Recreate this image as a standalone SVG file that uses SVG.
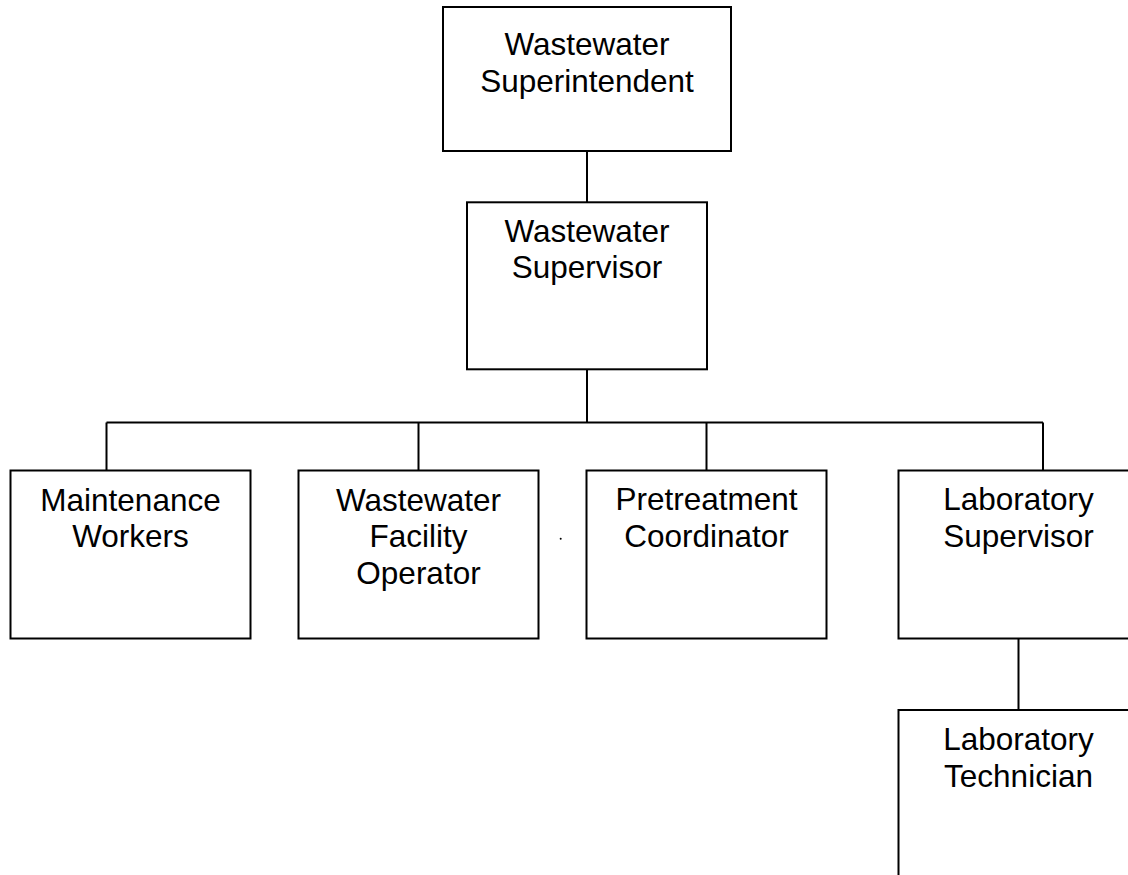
<svg xmlns="http://www.w3.org/2000/svg" width="1128" height="875" viewBox="0 0 1128 875">
<style>
.box{fill:#fff;stroke:#000;stroke-width:2}
.ln{fill:none;stroke:#000;stroke-width:2}
text{font-family:"Liberation Sans",Arial,sans-serif;font-size:31.5px;fill:#000;text-anchor:middle}
</style>
<rect width="1128" height="875" fill="#fff"/>
<g id="connectors">
<path class="ln" d="M587 151V202M587 369V422.5M106.5 422.5H1043M106.5 422.5V470.5M418.5 422.5V470.5M706.5 422.5V470.5M1043 422.5V470.5M1018.5 638.5V710"/>
</g>
<g id="superintendent">
<rect class="box" x="443" y="7" width="288" height="144"/>
<text x="587" y="55">Wastewater</text>
<text x="587" y="91.7">Superintendent</text>
</g>
<g id="supervisor">
<rect class="box" x="467" y="202.3" width="240" height="167"/>
<text x="587" y="241.7">Wastewater</text>
<text x="587" y="278.3">Supervisor</text>
</g>
<g id="maintenance">
<rect class="box" x="10.5" y="470.5" width="240" height="168"/>
<text x="130.5" y="510.5">Maintenance</text>
<text x="130.5" y="547.2">Workers</text>
</g>
<g id="operator">
<rect class="box" x="298.5" y="470.5" width="240" height="168"/>
<text x="418.5" y="510.5">Wastewater</text>
<text x="418.5" y="547.2">Facility</text>
<text x="418.5" y="583.9">Operator</text>
</g>
<circle cx="560.7" cy="538.7" r="1" fill="#000"/>
<g id="pretreatment">
<rect class="box" x="586.5" y="470.5" width="240" height="168"/>
<text x="706.5" y="510">Pretreatment</text>
<text x="706.5" y="546.7">Coordinator</text>
</g>
<g id="labsupervisor">
<rect class="box" x="898.5" y="470.5" width="240" height="168"/>
<text x="1018.5" y="510">Laboratory</text>
<text x="1018.5" y="546.7">Supervisor</text>
</g>
<g id="labtechnician">
<rect class="box" x="898.5" y="710" width="240" height="168"/>
<text x="1018.5" y="750">Laboratory</text>
<text x="1018.5" y="786.7">Technician</text>
</g>
</svg>
